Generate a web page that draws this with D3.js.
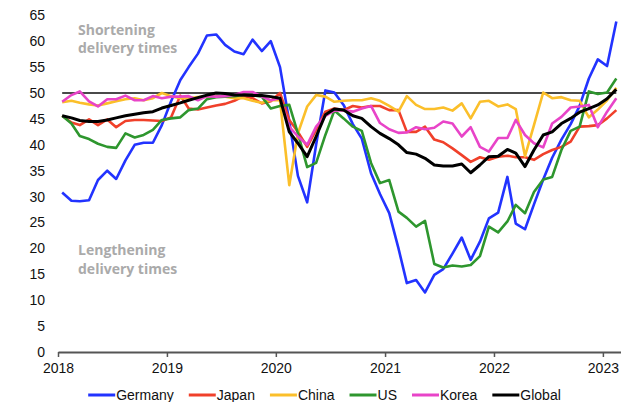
<!DOCTYPE html>
<html>
<head>
<meta charset="utf-8">
<script src="https://cdn.jsdelivr.net/npm/d3@7"></script>
<style>
  html, body { margin: 0; padding: 0; background: #fff; }
  svg { display: block; }
</style>
</head>
<body>
<svg id="chart" width="633" height="402"></svg>
<script>
// ---- data (monthly, Jan 2018 - Feb 2023) ----
const startYear = 2018;
const germany = [30.8,29.2,29.1,29.3,33.2,35.0,33.4,37.0,40.0,40.4,40.4,43.8,
  48.4,52.5,55.0,57.6,61.1,61.3,59.3,58.0,57.5,60.3,58.1,60.0,
  55.0,44.5,34.0,28.9,40.0,50.5,50.1,47.7,44.0,41.2,34.5,30.5,
  26.8,20.0,13.3,13.9,11.5,14.9,16.0,19.0,22.1,17.8,21.3,25.8,
  26.9,33.8,24.8,23.7,28.5,33.3,37.5,41.0,44.0,47.5,52.8,56.5,
  55.2,63.8];
const japan = [45.6,44.3,43.8,44.9,43.8,44.9,43.4,44.6,44.8,44.8,44.7,44.6,
  45.3,49.5,47.0,46.8,47.2,47.6,47.9,48.5,49.4,49.0,48.0,48.4,
  50.0,44.8,42.5,39.6,42.9,46.4,47.0,46.7,47.5,47.2,47.5,47.5,
  46.7,46.7,42.5,42.5,43.5,41.0,40.5,39.3,38.0,36.7,37.6,37.1,
  37.7,37.9,37.6,37.6,37.1,38.2,39.0,39.6,40.6,43.5,43.6,43.8,
  45.1,46.7];
const china = [48.2,48.5,48.1,47.8,47.6,48.0,48.4,48.8,49.0,48.6,49.0,50.0,
  49.4,49.0,49.0,49.2,49.3,49.4,49.3,49.0,49.0,48.5,48.1,48.6,
  48.6,32.2,42.2,47.4,49.6,49.3,48.3,48.5,48.6,48.6,49.0,48.5,
  47.5,46.4,49.4,47.7,46.9,46.9,47.2,46.6,48.0,45.1,48.3,48.5,
  47.4,47.8,46.9,37.8,43.8,50.1,49.0,49.2,48.6,48.5,45.3,46.8,
  48.6,51.0];
const us = [45.6,44.1,41.7,41.1,40.2,39.6,39.4,42.2,41.4,41.9,42.9,44.8,
  45.1,45.3,46.7,47.0,48.8,49.2,49.3,49.4,49.6,49.6,49.3,47.0,
  47.5,47.7,42.2,35.7,36.5,41.9,46.6,45.1,43.5,42.7,36.5,32.6,
  33.2,27.1,25.9,24.2,25.3,17.0,16.3,16.7,16.5,16.8,18.5,24.2,
  23.1,25.2,28.4,26.8,30.9,33.3,33.8,39.0,42.7,43.5,50.3,49.8,
  50.1,52.8];
const korea = [48.3,49.6,50.3,48.4,47.4,48.8,48.8,49.5,48.6,48.6,49.4,49.0,
  49.3,49.3,49.4,48.6,49.4,49.3,49.4,49.6,50.2,50.2,49.3,48.6,
  49.0,43.5,41.6,40.0,43.5,45.6,46.6,46.7,46.4,47.0,47.5,44.2,
  43.0,42.3,42.4,43.4,43.0,43.3,44.5,44.1,41.6,43.4,39.6,38.7,
  41.3,41.3,44.8,41.9,40.3,39.5,44.1,45.4,47.2,47.4,47.7,43.4,
  46.4,49.0];
const global = [45.6,45.2,44.7,44.5,44.5,44.8,45.2,45.6,45.9,46.2,46.4,47.1,
  47.6,48.1,48.6,49.1,49.6,50.0,49.9,49.6,49.6,49.5,49.5,49.3,
  49.0,42.5,40.3,37.7,41.6,45.8,46.9,46.7,45.6,45.1,43.5,42.2,
  41.2,40.0,38.5,38.2,37.4,36.1,35.9,35.9,36.3,34.6,36.1,37.7,
  37.8,39.1,38.4,35.8,39.0,41.9,42.5,44.1,45.1,46.3,47.0,47.7,
  48.9,50.7];
const seriesNames = ["Germany","Japan","China","US","Korea","Global"];
const seriesColors = ["#2233ff","#f0402a","#fbbf2a","#2e962e","#e844c8","#000000"];
const yTicks = [0,5,10,15,20,25,30,35,40,45,50,55,60,65];
const xTickYears = [2018,2019,2020,2021,2022,2023];
const threshold = 50;
const annotations = [
  {lines:["Shortening","delivery times"], v: 61.2},
  {lines:["Lengthening","delivery times"], v: 18.7}
];

// ---- build ----
const allSeries = [germany, japan, china, us, korea, global];
const dates = germany.map((_, i) => new Date(startYear, i, 15));

const svg = d3.select("#chart");
const x = d3.scaleTime()
  .domain([new Date(2018,0,1), new Date(2023,2,1)])
  .range([58, 620.5]);
const y = d3.scaleLinear().domain([0,65]).range([352, 15.3]);

// y labels
const yAxis = d3.axisLeft(y).tickValues(yTicks).tickSize(0).tickPadding(0);
const gy = svg.append("g").attr("transform","translate(45,0)").call(yAxis);
gy.select(".domain").remove();
gy.selectAll("text").attr("font-family","'Liberation Sans', Arial, sans-serif")
  .attr("font-size","14px").attr("fill","#111");

// x axis
const xAxis = d3.axisBottom(x)
  .tickValues(xTickYears.map(yr => new Date(yr,0,1)))
  .tickFormat(d3.timeFormat("%Y"))
  .tickSize(5).tickSizeOuter(0).tickPadding(6);
const gx = svg.append("g").attr("transform",`translate(0,${y(0)})`).call(xAxis);
gx.select(".domain").attr("stroke","#555").attr("stroke-width",1.8);
gx.selectAll(".tick line").attr("stroke","#555").attr("stroke-width",1.5);
gx.selectAll("text").attr("font-family","'Liberation Sans', Arial, sans-serif")
  .attr("font-size","14px").attr("fill","#111");

// threshold line
const line = d3.line().x((d,i) => x(dates[i])).y(d => y(d));
svg.append("path")
  .datum(germany.map(() => threshold))
  .attr("d", line)
  .attr("fill","none").attr("stroke","#4a4a4a").attr("stroke-width",1.8);

// series
allSeries.forEach((s, k) => {
  svg.append("path").datum(s).attr("d", line)
    .attr("fill","none").attr("stroke", seriesColors[k])
    .attr("stroke-width", k === 5 ? 3 : 2.6)
    .attr("stroke-linejoin","round");
});

// annotations
annotations.forEach(a => {
  const t = svg.append("text")
    .attr("x", 78).attr("y", y(a.v))
    .attr("font-family","'Open Sans', sans-serif").attr("font-weight",700)
    .attr("font-size","14px").attr("fill","#aaaaaa");
  a.lines.forEach((l, j) => {
    t.append("tspan").attr("x",78).attr("dy", j === 0 ? 0 : 18.5).text(l);
  });
});

// legend
const legend = svg.append("g");
let cx = 0;
seriesNames.forEach((n, k) => {
  const g = legend.append("g");
  g.append("line").attr("x1",0).attr("x2",27).attr("y1",0).attr("y2",0)
    .attr("stroke", seriesColors[k]).attr("stroke-width",3);
  const t = g.append("text").attr("x",28).attr("y",0).attr("dy","0.35em")
    .attr("font-family","'Liberation Sans', Arial, sans-serif")
    .attr("font-size","14px").attr("fill","#111").text(n);
  const w = 28 + t.node().getComputedTextLength();
  g.attr("transform", `translate(${cx},0)`);
  cx += w + 15;
});
const totalW = cx - 15;
legend.attr("transform", `translate(${324.5 - totalW/2},395)`);
</script>
</body>
</html>
